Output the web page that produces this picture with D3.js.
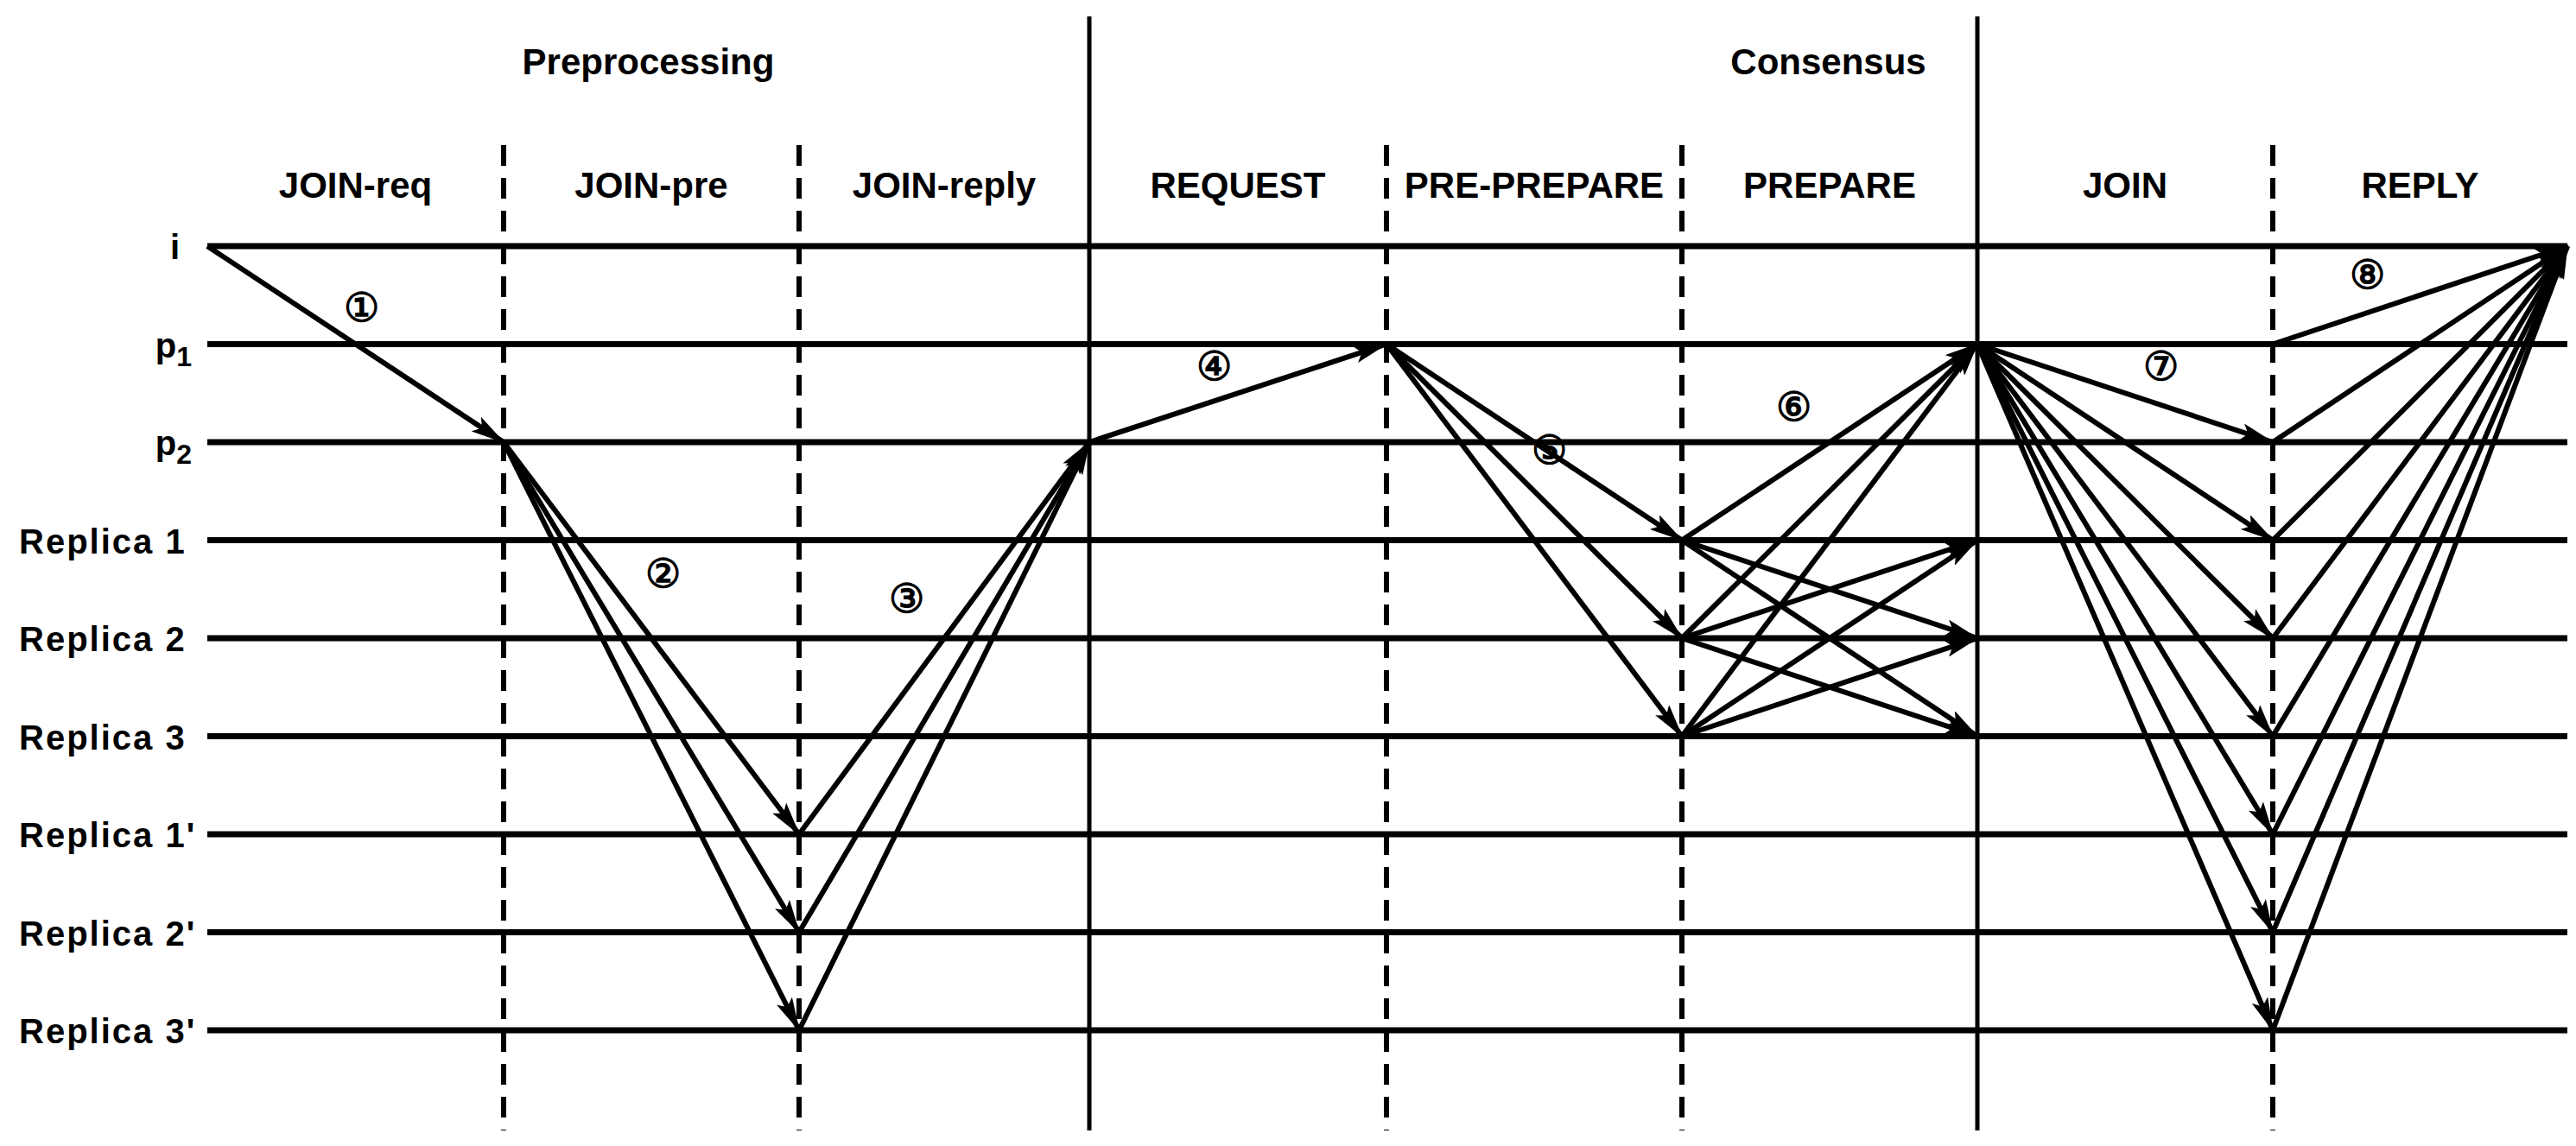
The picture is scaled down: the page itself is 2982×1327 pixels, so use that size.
<!DOCTYPE html>
<html>
<head>
<meta charset="utf-8">
<script src="https://cdn.jsdelivr.net/npm/d3@7"></script>
<style>
  body { margin: 0; background: #fff; }
  text { font-family: "Liberation Sans", Arial, sans-serif; font-weight: bold; }
</style>
</head>
<body>
<div class="js-seq-container"></div>
<script>
'use strict';

var rows = ['i', 'p1', 'p2', 'Replica 1', 'Replica 2', 'Replica 3', "Replica 1'", "Replica 2'", "Replica 3'"];
var phases = ['JOIN-req', 'JOIN-pre', 'JOIN-reply', 'REQUEST', 'PRE-PREPARE', 'PREPARE', 'JOIN', 'REPLY'];
var groups = [{name: 'Preprocessing', from: 0, to: 3}, {name: 'Consensus', from: 3, to: 8}];
var solidCols = [3, 6];
var dashedCols = [1, 2, 4, 5, 7];
// messages: [fromCol, fromRow, toCol, toRow]
var messages = [
    [0, 0, 1, 2],
    [1, 2, 2, 6], [1, 2, 2, 7], [1, 2, 2, 8],
    [2, 6, 3, 2], [2, 7, 3, 2], [2, 8, 3, 2],
    [3, 2, 4, 1],
    [4, 1, 5, 3], [4, 1, 5, 4], [4, 1, 5, 5],
    [5, 3, 6, 1], [5, 3, 6, 4], [5, 3, 6, 5],
    [5, 4, 6, 1], [5, 4, 6, 3], [5, 4, 6, 5],
    [5, 5, 6, 1], [5, 5, 6, 3], [5, 5, 6, 4],
    [6, 1, 7, 2], [6, 1, 7, 3], [6, 1, 7, 4], [6, 1, 7, 5], [6, 1, 7, 6], [6, 1, 7, 7], [6, 1, 7, 8],
    [7, 1, 8, 0], [7, 2, 8, 0], [7, 3, 8, 0], [7, 4, 8, 0], [7, 5, 8, 0], [7, 6, 8, 0], [7, 7, 8, 0], [7, 8, 8, 0]
];
// step markers: [label, col, row]
var steps = [
    ['\u2460', 0.52, 0.63], ['\u2461', 1.54, 3.35], ['\u2462', 2.37, 3.6], ['\u2463', 3.42, 1.23],
    ['\u2464', 4.55, 2.09], ['\u2465', 5.38, 1.65], ['\u2466', 6.62, 1.23], ['\u2467', 7.32, 0.3]
];

function createSequenceChart() {
    var width = 2982,
        height = 1327,
        x = d3.scaleLinear().domain([0, 1, 2, 3, 4, 5, 6, 7, 8])
            .range([240, 583, 925, 1261, 1605, 1947, 2289, 2631, 2972]),
        y = d3.scaleLinear().domain([0, 8]).range([285, 1193]),
        svg = d3.select('.js-seq-container').append('svg')
            .attr('width', width).attr('height', height);

    svg.append('defs').append('marker')
        .attr('id', 'head')
        .attr('markerUnits', 'userSpaceOnUse')
        .attr('viewBox', '0 -10 40 20')
        .attr('refX', 38).attr('refY', 0)
        .attr('markerWidth', 40).attr('markerHeight', 20)
        .attr('orient', 'auto')
        .append('path').attr('d', 'M0,-10L40,0L0,10L8,0Z').attr('fill', '#000');

    svg.selectAll('.row-line').data(rows).enter().append('line')
        .attr('x1', x(0)).attr('x2', x(8))
        .attr('y1', function(d, i) { return y(i); })
        .attr('y2', function(d, i) { return y(i); })
        .attr('stroke', '#000').attr('stroke-width', 7);

    svg.selectAll('.solid').data(solidCols).enter().append('line')
        .attr('x1', x).attr('x2', x).attr('y1', 19).attr('y2', 1309)
        .attr('stroke', '#000').attr('stroke-width', 5);

    svg.selectAll('.dashed').data(dashedCols).enter().append('line')
        .attr('x1', x).attr('x2', x).attr('y1', 168).attr('y2', 1309)
        .attr('stroke', '#000').attr('stroke-width', 6)
        .attr('stroke-dasharray', '24,14');

    svg.selectAll('.msg').data(messages).enter().append('line')
        .attr('x1', function(d) { return x(d[0]); })
        .attr('y1', function(d) { return y(d[1]); })
        .attr('x2', function(d) { return x(d[2]); })
        .attr('y2', function(d) { return y(d[3]); })
        .attr('stroke', '#000').attr('stroke-width', 6)
        .attr('marker-end', 'url(#head)');

    svg.selectAll('.group').data(groups).enter().append('text')
        .attr('x', function(d) { return (x(d.from) + x(d.to)) / 2; })
        .attr('y', 86).attr('text-anchor', 'middle')
        .attr('font-size', 42).text(function(d) { return d.name; });

    svg.selectAll('.phase').data(phases).enter().append('text')
        .attr('x', function(d, i) { return (x(i) + x(i + 1)) / 2; })
        .attr('y', 229).attr('text-anchor', 'middle')
        .attr('font-size', 42).text(function(d) { return d; });

    var labels = svg.selectAll('.row-label').data(rows).enter().append('text')
        .attr('x', function(d, i) { return i === 0 ? 208 : (i < 3 ? 222 : 22); })
        .attr('y', function(d, i) { return y(i) + 15; })
        .attr('text-anchor', function(d, i) { return i < 3 ? 'end' : 'start'; })
        .attr('font-size', 40)
        .attr('letter-spacing', function(d, i) { return i < 3 ? 0 : 2; });
    labels.each(function(d) {
        var t = d3.select(this);
        if (d[0] === 'p') {
            t.append('tspan').text('p');
            t.append('tspan').attr('dy', 10).attr('font-size', 32).text(d.slice(1));
        } else {
            t.text(d);
        }
    });

    svg.selectAll('.step').data(steps).enter().append('text')
        .attr('x', function(d) { return x(d[1]); })
        .attr('y', function(d) { return y(d[2]) + 15; })
        .attr('text-anchor', 'middle')
        .attr('font-family', 'DejaVu Sans').attr('font-weight', 'normal')
        .attr('font-size', 46).text(function(d) { return d[0]; });
}

if (d3.select('.js-seq-container').node()) {
    createSequenceChart();
}
</script>
</body>
</html>
